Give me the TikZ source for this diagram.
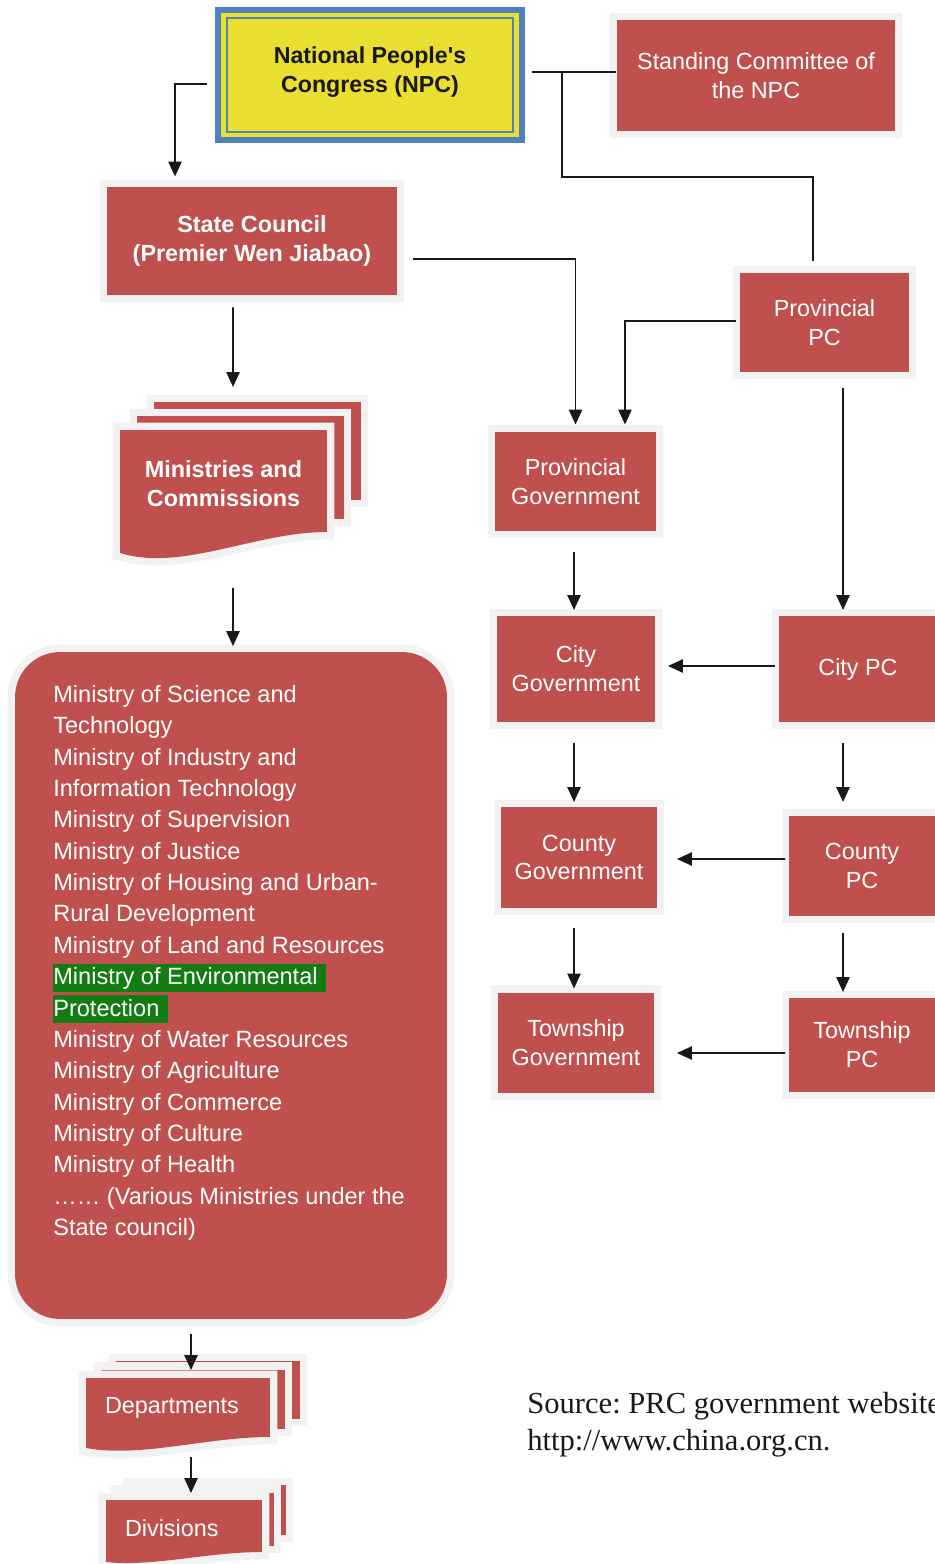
\documentclass[tikz,border=0pt]{standalone}
\usepackage{fontspec}
\setmainfont{Liberation Serif}
\setsansfont{Liberation Sans}
\usepackage{xcolor}
\usepackage{tikz}
\usetikzlibrary{calc}
\usetikzlibrary{backgrounds}
\usetikzlibrary{positioning}
\usetikzlibrary{arrows.meta}

\definecolor{boxred}{RGB}{192,80,77}
\definecolor{halo}{RGB}{242,242,242}
\definecolor{npcyellow}{RGB}{234,222,49}
\definecolor{npcblue}{RGB}{79,129,189}
\definecolor{envgreen}{RGB}{19,124,19}
\definecolor{linkblack}{RGB}{25,25,25}

% green highlight in the ministry list
\newcommand{\envmark}[1]{{\setlength{\fboxsep}{0pt}\colorbox{envgreen}{\rule[-4pt]{0pt}{15.9pt}#1\hspace{5pt}}}}

% stack of pages behind a node: node, dx, dy, shrink, left drop, right drop, sag
\newcommand{\docstack}[7]{%
  \begin{scope}[on background layer]
    \foreach \k in {2,1}
      \path[page] ([shift={(\k*#2,-\k*#3)}]#1.north west) rectangle ([shift={(\k*#2,-\k*#3-\k*#4)}]#1.south east);
    \path[page] (#1.north west) -- (#1.north east) -- ([shift={(0,#6)}]#1.south east)
      .. controls ($(#1.south east)!0.35!(#1.south west)+(0,#6)$) and ($(#1.south east)!0.7!(#1.south west)+(0,#5+#7)$)
      .. ([shift={(0,#5)}]#1.south west) -- cycle;
  \end{scope}}

\begin{document}
\begin{tikzpicture}[x=0.02cm, y=-0.02cm, font=\sffamily, >={Triangle[length=8.5pt,width=7.5pt]}]
	\tikzstyle{box}=[rectangle, fill=boxred, text=white, align=center, inner sep=0pt, outer sep=4.25pt, preaction={draw=halo, line width=8.5pt}, font=\sffamily\fontsize{13.3}{16.4}\selectfont]
	\tikzstyle{boldbox}=[box, font=\sffamily\bfseries\fontsize{13.3}{16.4}\selectfont]
	\tikzstyle{npcbox}=[rectangle, fill=npcyellow, draw=npcblue, line width=3.4pt, text=linkblack, align=center, inner sep=0pt, outer sep=0pt, font=\sffamily\bfseries\fontsize{13.2}{16.4}\selectfont]
	\tikzstyle{doc}=[rectangle, text=white, inner sep=0pt, outer sep=0pt, font=\sffamily\fontsize{13.3}{16.4}\selectfont]
	\tikzstyle{page}=[fill=boxred, preaction={draw=halo, line width=8.5pt}]
	\tikzstyle{link}=[->, draw=linkblack, line width=1.1pt]
	\tikzstyle{wire}=[draw=linkblack, line width=1.1pt]
	
	\useasboundingbox (0,0) rectangle (935,1564);
	
	\node[npcbox, minimum width=6.08cm, minimum height=2.6cm] (npc) at (370,75) {National People\textquotesingle s\\Congress (NPC)\rule[-6.5pt]{0pt}{0pt}};
	\draw[npcblue, line width=1.1pt] ([shift={(9,8)}]npc.north west) rectangle ([shift={(-9,-8)}]npc.south east);
	\node[box, minimum width=5.56cm, minimum height=2.22cm] (stc) at (756,75.5) {Standing Committee of\\the NPC};
	\node[boldbox, minimum width=5.8cm, minimum height=2.16cm] (sc) at (252,241) {State Council\\(Premier Wen Jiabao)};
	\node[box, minimum width=3.38cm, minimum height=1.98cm] (ppc) at (824.5,322.5) {Provincial\\PC};
	\node[box, minimum width=3.22cm, minimum height=1.98cm] (pg) at (575.5,481.5) {Provincial\\Government};
	\node[box, minimum width=3.16cm, minimum height=2.12cm] (cg) at (576,669) {City\\Government};
	\node[box, minimum width=3.16cm, minimum height=2.12cm] (cpc) at (858,669) {City PC};
	\node[box, minimum width=3.12cm, minimum height=2.02cm] (cog) at (579,857.5) {County\\Government};
	\node[box, minimum width=2.92cm, minimum height=2cm] (copc) at (862,866) {County\\PC};
	\node[box, minimum width=3.12cm, minimum height=2cm] (tg) at (576,1042.5) {Township\\Government};
	\node[box, minimum width=2.92cm, minimum height=1.88cm] (tpc) at (862,1045) {Township\\PC};
	
	% ministries
	\node[doc, align=center, minimum width=4.14cm, minimum height=2.16cm, font=\sffamily\bfseries\fontsize{13.3}{16.4}\selectfont] (mc) at (223.5,484) {Ministries and\\Commissions};
	\docstack{mc}{17}{14}{5}{15}{-6}{19}
	\node[box, rounded corners=0.9cm, minimum width=8.64cm, minimum height=13.34cm] (mb) at (231,985.5) {};
	\node[anchor=north west, align=left, inner sep=0pt, text=white, font=\sffamily\fontsize{13.4}{17.85}\selectfont] (ml) at (53,685) {Ministry of Science and\\Technology\\Ministry of Industry and\\Information Technology\\Ministry of Supervision\\Ministry of Justice\\Ministry of Housing and Urban-\\Rural Development\\Ministry of Land and Resources\\\envmark{Ministry of Environmental}\\\envmark{Protection}\\Ministry of Water Resources\\Ministry of Agriculture\\Ministry of Commerce\\Ministry of Culture\\Ministry of Health\\…… (Various Ministries under the\\State council)};
	\node[doc, align=left, text width=2.92cm, inner xsep=0.38cm, minimum height=1.2cm] (dep) at (178,1408) {Departments};
	\docstack{dep}{15}{8.5}{1}{10}{-1}{10}
	\node[doc, align=left, text width=2.36cm, inner xsep=0.38cm, minimum height=1.12cm] (div) at (184,1528) {Divisions};
	\docstack{div}{12}{7.5}{3}{6}{-4}{5}
	
	\node[anchor=north west, align=left, inner sep=0pt, text=black!90, font=\rmfamily\fontsize{17.4}{21}\selectfont\frenchspacing] (src) at (527,1392) {Source: PRC government website\\http://www.china.org.cn.};
	
	\draw[link] ([shift={(-11,9)}]npc.west) -| ([shift={(-77,-3)}]sc.north);
	\draw[wire] ([shift={(10,-3)}]npc.east) -- ([shift={(6,-3.5)}]stc.west);
	\draw[wire] ([shift={(40,-3)}]npc.east) -- ++(0,105) -| ([shift={(-11.5,-5)}]ppc.north);
	\draw[link] ([shift={(-19,5)}]sc.south) -- ([shift={(9.5,-43)}]mc.north);
	\draw[link] ([shift={(8.5,18)}]sc.east) -| (pg.north);
	\draw[link] ([shift={(3,-1.5)}]ppc.west) -| ([shift={(49.5,0)}]pg.north);
	\draw[link] ([shift={(18.5,8.5)}]ppc.south) -- ([shift={(-15,1.5)}]cpc.north);
	\draw[link] ([shift={(-1.5,13.5)}]pg.south) -- ([shift={(-2,1.5)}]cg.north);
	\draw[link] ([shift={(3.5,-3)}]cpc.west) -- ([shift={(5.5,-3)}]cg.east);
	\draw[link] ([shift={(-2,13.5)}]cg.south) -- ([shift={(-5,2.5)}]cog.north);
	\draw[link] ([shift={(-15,13.5)}]cpc.south) -- ([shift={(-19,-6.5)}]copc.north);
	\draw[link] ([shift={(3.5,-7)}]copc.west) -- ([shift={(12.5,1.5)}]cog.east);
	\draw[link] ([shift={(-5,12.5)}]cog.south) -- ([shift={(-2,3.5)}]tg.north);
	\draw[link] ([shift={(-19,9.5)}]copc.south) -- ([shift={(-19,1.5)}]tpc.north);
	\draw[link] ([shift={(3.5,8)}]tpc.west) -- ([shift={(15.5,10.5)}]tg.east);
	\draw[link] ([shift={(9.5,50)}]mc.south) -- ([shift={(2,1.5)}]mb.north);
	\draw[link] ([shift={(-40,7.5)}]mb.south) -- ([shift={(13,-8)}]dep.north);
	\draw[link] ([shift={(13,19)}]dep.south) -- ([shift={(7,-7)}]div.north);
\end{tikzpicture}
\end{document}
